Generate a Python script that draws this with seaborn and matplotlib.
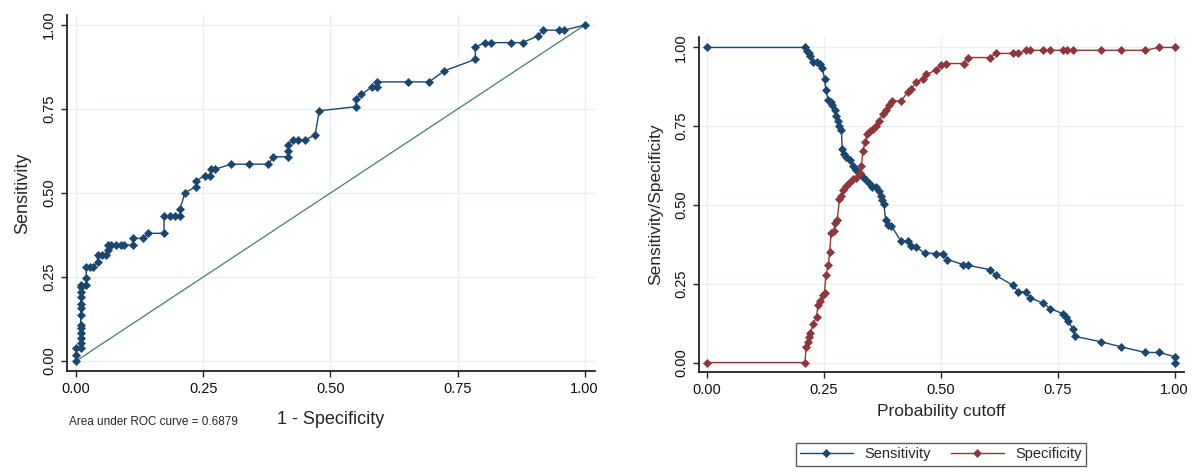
import matplotlib
matplotlib.use("Agg")
import matplotlib.pyplot as plt
import seaborn as sns
import numpy as np

# ---- data: ROC curve ----
roc_fpr = [0.000, 0.000, 0.000, 0.009, 0.009, 0.009, 0.009, 0.009, 0.009, 0.009, 0.009,
           0.009, 0.009, 0.009, 0.009, 0.009, 0.020, 0.020, 0.020, 0.028, 0.034, 0.042,
           0.042, 0.051, 0.059, 0.063, 0.063, 0.068, 0.078, 0.088, 0.094, 0.111, 0.111,
           0.132, 0.142, 0.173, 0.173, 0.184, 0.194, 0.204, 0.204, 0.214, 0.236, 0.236,
           0.253, 0.263, 0.266, 0.273, 0.305, 0.339, 0.378, 0.388, 0.417, 0.417, 0.417,
           0.427, 0.437, 0.450, 0.470, 0.478, 0.550, 0.550, 0.561, 0.581, 0.591, 0.591,
           0.653, 0.694, 0.724, 0.785, 0.785, 0.805, 0.815, 0.856, 0.878, 0.908, 0.919,
           0.949, 0.959, 1.000]
roc_tpr = [0.000, 0.018, 0.038, 0.038, 0.053, 0.067, 0.082, 0.097, 0.107, 0.137, 0.157,
           0.171, 0.191, 0.206, 0.221, 0.226, 0.226, 0.246, 0.281, 0.281, 0.281, 0.296,
           0.315, 0.315, 0.315, 0.330, 0.345, 0.345, 0.345, 0.345, 0.345, 0.345, 0.365,
           0.365, 0.380, 0.380, 0.432, 0.432, 0.432, 0.432, 0.451, 0.501, 0.519, 0.536,
           0.552, 0.552, 0.571, 0.571, 0.586, 0.586, 0.586, 0.608, 0.608, 0.626, 0.643,
           0.658, 0.658, 0.658, 0.673, 0.745, 0.757, 0.779, 0.794, 0.815, 0.815, 0.831,
           0.831, 0.831, 0.864, 0.898, 0.935, 0.948, 0.948, 0.948, 0.948, 0.968, 0.985,
           0.985, 0.985, 1.000]
ref_line = [0.0, 1.0]
auc_text = "Area under ROC curve = 0.6879"

# ---- data: sensitivity / specificity vs cutoff ----
cut_sens = [0.000, 0.209, 0.214, 0.217, 0.221, 0.226, 0.235, 0.242, 0.246, 0.251, 0.254,
            0.259, 0.264, 0.268, 0.273, 0.276, 0.280, 0.283, 0.287, 0.289, 0.293, 0.298,
            0.305, 0.312, 0.319, 0.326, 0.333, 0.340, 0.348, 0.353, 0.362, 0.368, 0.371,
            0.375, 0.378, 0.382, 0.387, 0.394, 0.415, 0.429, 0.437, 0.447, 0.465, 0.490,
            0.504, 0.514, 0.547, 0.557, 0.604, 0.617, 0.654, 0.665, 0.683, 0.691, 0.718,
            0.734, 0.761, 0.767, 0.771, 0.782, 0.787, 0.842, 0.885, 0.937, 0.966, 1.000,
            1.000]
sens = [1.000, 1.000, 0.989, 0.981, 0.972, 0.954, 0.954, 0.949, 0.936, 0.901, 0.864,
        0.832, 0.827, 0.816, 0.802, 0.784, 0.768, 0.752, 0.738, 0.678, 0.662, 0.653,
        0.643, 0.624, 0.611, 0.598, 0.589, 0.579, 0.566, 0.557, 0.557, 0.545, 0.529,
        0.515, 0.502, 0.451, 0.438, 0.433, 0.385, 0.385, 0.369, 0.366, 0.348, 0.346,
        0.346, 0.327, 0.311, 0.309, 0.295, 0.277, 0.245, 0.224, 0.224, 0.205, 0.189,
        0.171, 0.155, 0.144, 0.133, 0.107, 0.083, 0.066, 0.050, 0.032, 0.032, 0.019,
        0.000]
cut_spec = [0.000, 0.209, 0.212, 0.216, 0.218, 0.221, 0.226, 0.234, 0.237, 0.241, 0.248,
            0.251, 0.254, 0.259, 0.262, 0.265, 0.271, 0.274, 0.278, 0.283, 0.287, 0.291,
            0.296, 0.303, 0.312, 0.319, 0.326, 0.330, 0.333, 0.338, 0.342, 0.348, 0.355,
            0.362, 0.368, 0.376, 0.383, 0.390, 0.396, 0.415, 0.429, 0.437, 0.447, 0.462,
            0.469, 0.490, 0.500, 0.511, 0.550, 0.557, 0.604, 0.618, 0.654, 0.665, 0.683,
            0.690, 0.718, 0.734, 0.761, 0.770, 0.783, 0.842, 0.885, 0.937, 0.966, 1.000]
spec = [0.000, 0.000, 0.050, 0.064, 0.082, 0.093, 0.121, 0.144, 0.183, 0.194, 0.215,
        0.220, 0.279, 0.309, 0.350, 0.412, 0.419, 0.444, 0.451, 0.518, 0.529, 0.547,
        0.561, 0.571, 0.582, 0.587, 0.603, 0.624, 0.672, 0.699, 0.726, 0.736, 0.741,
        0.752, 0.768, 0.789, 0.800, 0.816, 0.830, 0.830, 0.859, 0.869, 0.890, 0.901,
        0.915, 0.928, 0.943, 0.949, 0.949, 0.968, 0.968, 0.981, 0.981, 0.981, 0.991,
        0.991, 0.991, 0.991, 0.991, 0.991, 0.991, 0.991, 0.991, 0.991, 1.000, 1.000]

ticks = [0.0, 0.25, 0.5, 0.75, 1.0]
tick_labels = ["0.00", "0.25", "0.50", "0.75", "1.00"]

# ---- style ----
sns.set_style("white")
plt.rcParams["font.family"] = ["Liberation Sans", "DejaVu Sans"]

NAVY = "#1a476f"
MAROON = "#90353b"
TEAL = "#3f7f6f"
GRID = "#e6eff1"
MS = 4.5

fig = plt.figure(figsize=(11.92, 4.71), dpi=100)
ax1 = fig.add_axes([0.0562, 0.2123, 0.4428, 0.7557])
ax2 = fig.add_axes([0.5866, 0.2102, 0.4067, 0.7118])


def style_axes(ax, xlim, ylim):
    ax.set_xlim(*xlim)
    ax.set_ylim(*ylim)
    ax.set_xticks(ticks)
    ax.set_xticklabels(tick_labels)
    ax.set_yticks(ticks)
    ax.set_yticklabels(tick_labels, rotation=90, va="center")
    ax.grid(True, color=GRID, lw=1.0)
    ax.set_axisbelow(True)
    for s in ["top", "right"]:
        ax.spines[s].set_visible(False)
    for s in ["left", "bottom"]:
        ax.spines[s].set_color("#222222")
        ax.spines[s].set_linewidth(1.3)
    ax.tick_params(axis="both", direction="out", length=4, width=1.0,
                   color="#222222", labelsize=10.5, labelcolor="#111111", pad=4)
    ax.tick_params(axis="x", bottom=True)
    ax.tick_params(axis="y", left=True)


# ---- left: ROC ----
sns.lineplot(x=ref_line, y=ref_line, ax=ax1, color=TEAL, lw=0.9,
             estimator=None, sort=False)
sns.lineplot(x=roc_fpr, y=roc_tpr, ax=ax1, color=NAVY, lw=1.0,
             estimator=None, sort=False, marker="D", markersize=MS,
             markeredgecolor=NAVY, markeredgewidth=0.5)
style_axes(ax1, (-0.018, 1.02), (-0.03, 1.03))
ax1.set_xlabel("1 - Specificity", fontsize=13, labelpad=11)
ax1.set_ylabel("Sensitivity", fontsize=13, labelpad=8)
fig.text(69 / 1192, 1 - 422 / 471, auc_text, fontsize=8.5, va="center", ha="left")

# ---- right: sensitivity / specificity ----
sns.lineplot(x=cut_sens, y=sens, ax=ax2, color=NAVY, lw=1.0,
             estimator=None, sort=False, marker="D", markersize=MS,
             markeredgecolor=NAVY, markeredgewidth=0.5, label="Sensitivity")
sns.lineplot(x=cut_spec, y=spec, ax=ax2, color=MAROON, lw=1.0,
             estimator=None, sort=False, marker="D", markersize=MS,
             markeredgecolor=MAROON, markeredgewidth=0.5, label="Specificity")
style_axes(ax2, (-0.017, 1.02), (-0.03, 1.034))
ax2.set_xlabel("Probability cutoff", fontsize=12.5, labelpad=5)
ax2.set_ylabel("Sensitivity/Specificity", fontsize=12.5, labelpad=8)

handles, labels = ax2.get_legend_handles_labels()
ax2.get_legend().remove()
leg = fig.legend(handles, labels, loc="lower center",
                 bbox_to_anchor=(941 / 1192, 0.002), ncol=2, frameon=True,
                 fancybox=False, edgecolor="#333333", fontsize=10.5,
                 handlelength=3.6, columnspacing=1.4, borderpad=0.3,
                 handletextpad=0.8, borderaxespad=0.3)
leg.get_frame().set_linewidth(1.0)

fig.savefig("out.png", dpi=100)
